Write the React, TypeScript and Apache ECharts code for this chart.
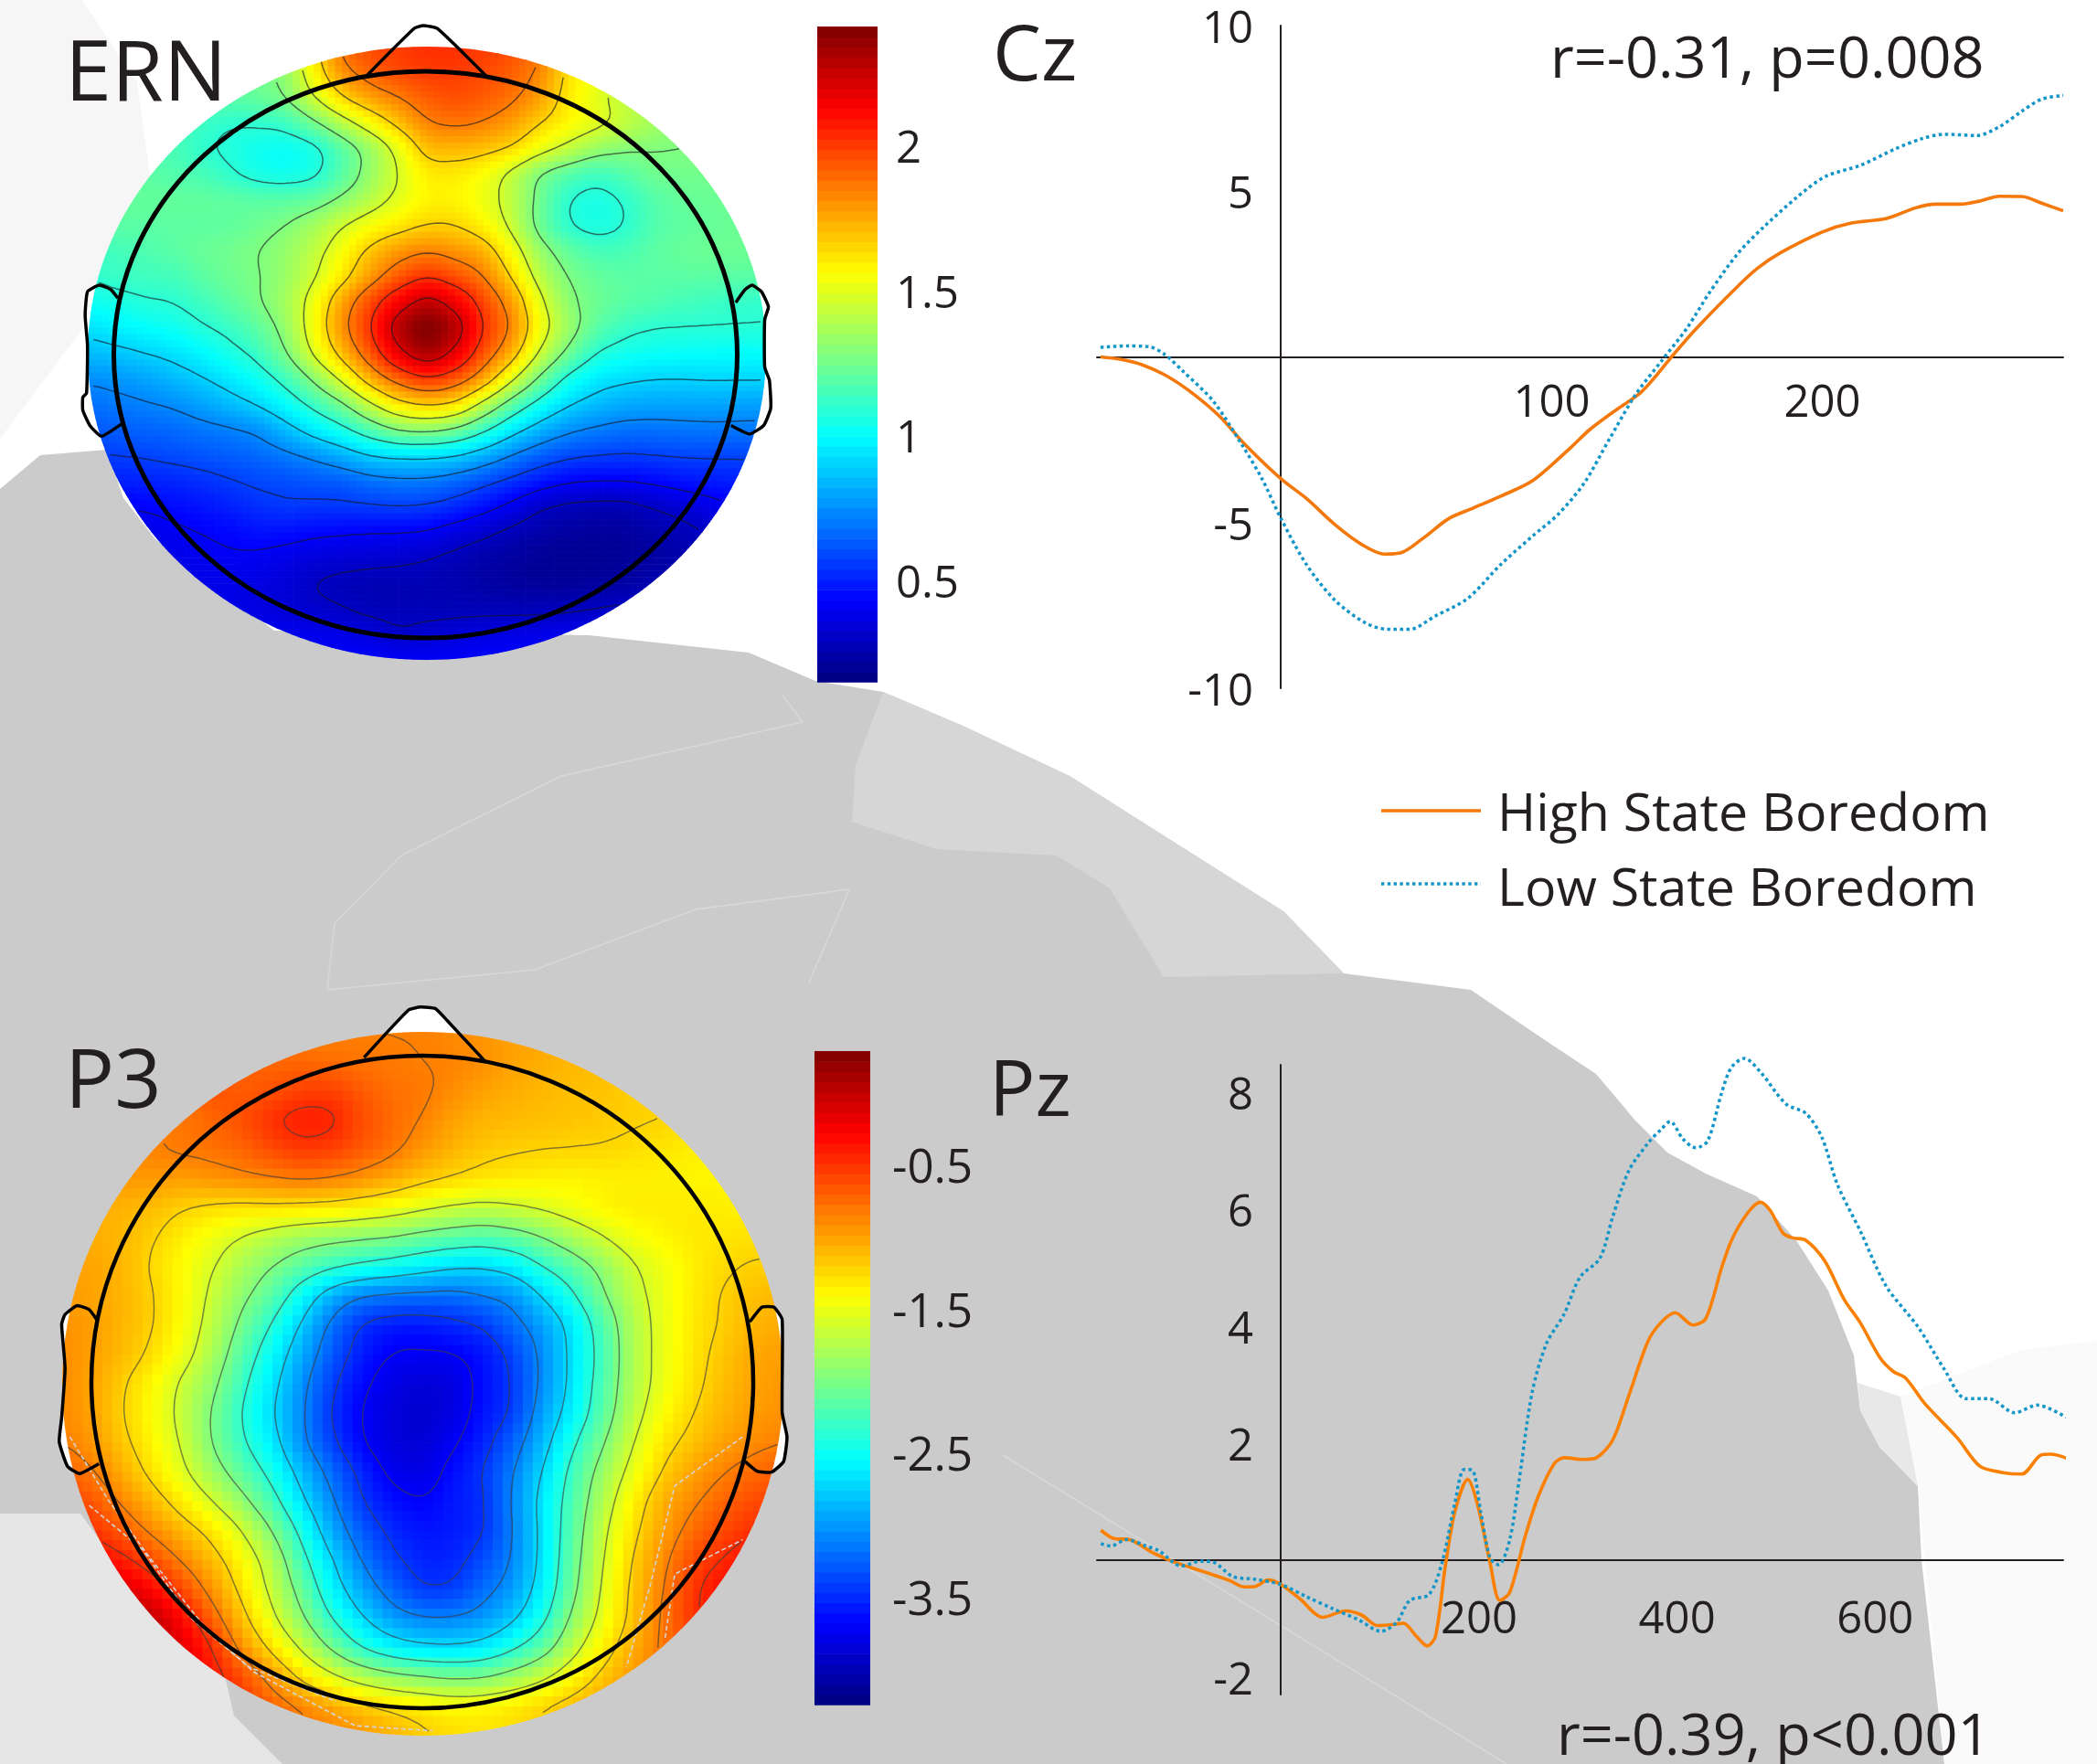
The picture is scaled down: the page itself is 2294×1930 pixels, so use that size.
import React, { useEffect, useRef } from "react";
import * as echarts from "echarts";

const ernMatrix: number[][] = [
  [1.25,1.25,1.25,1.25,1.25,1.25,1.25,1.35,1.62,1.9,1.97,2.0,2.03,2.03,2.0,1.96,1.88,1.65,1.5,1.4,1.35,1.35,1.35,1.35,1.35],
  [1.25,1.25,1.25,1.25,1.25,1.25,1.25,1.3,1.58,1.82,1.92,1.97,2.0,2.0,1.97,1.92,1.84,1.62,1.52,1.42,1.35,1.35,1.35,1.35,1.35],
  [1.22,1.22,1.22,1.22,1.22,1.2,1.22,1.28,1.47,1.66,1.78,1.85,1.93,1.96,1.93,1.88,1.78,1.6,1.5,1.42,1.35,1.3,1.3,1.3,1.3],
  [1.2,1.2,1.2,1.2,1.12,1.09,1.1,1.12,1.25,1.4,1.55,1.7,1.85,1.88,1.85,1.78,1.66,1.58,1.52,1.44,1.37,1.3,1.28,1.28,1.28],
  [1.2,1.2,1.2,1.15,1.1,1.07,1.02,1.0,1.03,1.18,1.32,1.5,1.72,1.72,1.7,1.66,1.53,1.44,1.33,1.29,1.28,1.28,1.28,1.28,1.28],
  [1.2,1.2,1.2,1.18,1.16,1.1,1.04,1.02,1.05,1.18,1.33,1.47,1.6,1.6,1.55,1.42,1.25,1.17,1.12,1.18,1.25,1.25,1.25,1.25,1.25],
  [1.22,1.22,1.22,1.22,1.22,1.22,1.2,1.2,1.22,1.3,1.4,1.5,1.58,1.58,1.52,1.42,1.24,1.08,1.04,1.09,1.18,1.22,1.23,1.24,1.24],
  [1.2,1.2,1.2,1.2,1.2,1.2,1.24,1.28,1.36,1.47,1.55,1.6,1.66,1.66,1.58,1.44,1.22,1.08,1.04,1.08,1.18,1.2,1.22,1.23,1.23],
  [1.12,1.14,1.17,1.2,1.23,1.25,1.28,1.33,1.42,1.55,1.7,1.8,1.85,1.8,1.75,1.55,1.33,1.22,1.15,1.16,1.2,1.23,1.24,1.24,1.24],
  [1.1,1.13,1.14,1.14,1.2,1.24,1.27,1.33,1.45,1.6,1.78,1.93,2.03,1.95,1.86,1.65,1.4,1.27,1.22,1.2,1.2,1.2,1.2,1.2,1.2],
  [1.02,1.05,1.08,1.09,1.13,1.2,1.27,1.36,1.53,1.78,1.98,2.15,2.3,2.17,1.98,1.8,1.5,1.3,1.24,1.2,1.18,1.15,1.13,1.11,1.1],
  [0.93,0.97,1.0,1.03,1.08,1.12,1.2,1.32,1.55,1.82,2.03,2.33,2.46,2.33,2.03,1.85,1.55,1.35,1.2,1.12,1.09,1.09,1.09,1.09,1.09],
  [0.85,0.87,0.9,0.93,0.98,1.05,1.12,1.27,1.5,1.72,1.95,2.2,2.36,2.2,1.95,1.75,1.45,1.25,1.08,1.04,1.02,1.01,1.0,1.0,1.0],
  [0.74,0.76,0.79,0.84,0.89,0.95,1.02,1.13,1.3,1.5,1.75,1.92,2.03,1.95,1.78,1.5,1.25,1.04,0.95,0.92,0.9,0.9,0.91,0.91,0.91],
  [0.68,0.7,0.72,0.74,0.79,0.85,0.91,1.0,1.13,1.25,1.45,1.62,1.68,1.65,1.42,1.2,1.03,0.91,0.85,0.81,0.8,0.8,0.8,0.79,0.78],
  [0.62,0.64,0.65,0.66,0.69,0.71,0.74,0.85,0.96,1.05,1.18,1.3,1.32,1.26,1.12,0.95,0.83,0.75,0.71,0.68,0.68,0.69,0.7,0.7,0.7],
  [0.56,0.57,0.58,0.6,0.62,0.64,0.66,0.7,0.75,0.82,0.9,0.92,0.92,0.9,0.82,0.72,0.64,0.59,0.57,0.56,0.57,0.58,0.58,0.58,0.58],
  [0.5,0.5,0.5,0.51,0.53,0.56,0.59,0.6,0.62,0.63,0.68,0.7,0.7,0.66,0.6,0.54,0.48,0.43,0.42,0.42,0.44,0.47,0.49,0.5,0.5],
  [0.42,0.42,0.43,0.45,0.47,0.5,0.53,0.56,0.55,0.55,0.56,0.57,0.56,0.52,0.46,0.39,0.3,0.27,0.26,0.26,0.3,0.33,0.38,0.42,0.43],
  [0.37,0.37,0.37,0.4,0.42,0.44,0.47,0.46,0.44,0.43,0.42,0.42,0.41,0.36,0.32,0.27,0.24,0.22,0.21,0.21,0.24,0.27,0.3,0.32,0.32],
  [0.38,0.38,0.38,0.38,0.39,0.41,0.4,0.38,0.35,0.34,0.33,0.32,0.3,0.27,0.24,0.22,0.2,0.19,0.19,0.2,0.22,0.24,0.27,0.3,0.3],
  [0.38,0.38,0.38,0.38,0.38,0.38,0.37,0.34,0.29,0.27,0.26,0.26,0.26,0.25,0.23,0.21,0.2,0.2,0.21,0.22,0.25,0.28,0.3,0.3,0.3],
  [0.38,0.38,0.38,0.38,0.38,0.38,0.36,0.34,0.32,0.3,0.27,0.27,0.27,0.27,0.27,0.27,0.27,0.28,0.3,0.32,0.34,0.34,0.34,0.34,0.34],
  [0.4,0.4,0.4,0.4,0.4,0.4,0.4,0.4,0.39,0.38,0.36,0.3,0.33,0.35,0.37,0.38,0.39,0.4,0.4,0.4,0.4,0.4,0.4,0.4,0.4],
  [0.43,0.43,0.43,0.43,0.43,0.43,0.43,0.43,0.43,0.43,0.43,0.42,0.42,0.42,0.43,0.43,0.43,0.43,0.43,0.43,0.43,0.43,0.43,0.43,0.43],
];
const ernLevels = [2.22, 2.03, 1.85, 1.66, 1.47, 1.28, 1.09, 0.9, 0.73, 0.57, 0.42, 0.3];

const p3Matrix: number[][] = [
  [-0.8,-0.8,-0.8,-0.8,-0.8,-0.8,-0.8,-0.75,-0.85,-0.85,-0.85,-0.85,-0.85,-0.9,-0.95,-1.0,-1.0,-1.05,-1.1,-1.1,-1.1,-1.1,-1.1,-1.1,-1.1],
  [-0.8,-0.8,-0.8,-0.8,-0.8,-0.75,-0.7,-0.75,-0.75,-0.78,-0.8,-0.82,-0.85,-0.85,-0.9,-1.0,-1.05,-1.1,-1.1,-1.1,-1.1,-1.1,-1.1,-1.1,-1.1],
  [-0.85,-0.85,-0.85,-0.85,-0.8,-0.6,-0.7,-0.65,-0.55,-0.55,-0.68,-0.78,-0.8,-0.9,-1.0,-1.05,-1.1,-1.12,-1.15,-1.2,-1.2,-1.2,-1.2,-1.2,-1.2],
  [-0.88,-0.88,-0.88,-0.9,-0.8,-0.75,-0.62,-0.45,-0.38,-0.4,-0.62,-0.75,-0.85,-1.0,-1.08,-1.1,-1.12,-1.15,-1.17,-1.2,-1.22,-1.25,-1.25,-1.25,-1.25],
  [-0.88,-0.88,-0.88,-0.85,-0.8,-0.78,-0.72,-0.6,-0.5,-0.55,-0.66,-0.78,-0.95,-1.08,-1.17,-1.2,-1.22,-1.22,-1.23,-1.26,-1.3,-1.35,-1.38,-1.38,-1.38],
  [-1.0,-1.0,-0.95,-0.95,-0.98,-0.92,-0.88,-0.84,-0.8,-0.84,-0.92,-1.03,-1.15,-1.22,-1.28,-1.32,-1.35,-1.38,-1.36,-1.36,-1.36,-1.38,-1.38,-1.4,-1.4],
  [-1.1,-1.05,-1.08,-1.12,-1.22,-1.28,-1.3,-1.28,-1.3,-1.32,-1.38,-1.45,-1.55,-1.63,-1.68,-1.62,-1.55,-1.45,-1.36,-1.32,-1.32,-1.32,-1.34,-1.36,-1.38],
  [-1.05,-1.05,-1.1,-1.2,-1.35,-1.48,-1.62,-1.75,-1.85,-1.9,-1.95,-1.98,-2.08,-2.15,-2.2,-2.13,-1.98,-1.78,-1.6,-1.45,-1.38,-1.32,-1.3,-1.28,-1.28],
  [-1.0,-1.0,-1.08,-1.25,-1.42,-1.58,-1.8,-1.98,-2.15,-2.3,-2.4,-2.5,-2.6,-2.7,-2.72,-2.62,-2.35,-2.15,-1.9,-1.62,-1.48,-1.35,-1.25,-1.2,-1.2],
  [-0.98,-1.0,-1.08,-1.2,-1.4,-1.65,-1.92,-2.15,-2.55,-2.95,-3.15,-3.18,-3.2,-3.22,-3.12,-3.05,-2.72,-2.4,-2.0,-1.68,-1.5,-1.33,-1.2,-1.12,-1.1],
  [-0.92,-0.98,-1.08,-1.2,-1.42,-1.7,-2.05,-2.38,-2.78,-3.2,-3.5,-3.6,-3.6,-3.52,-3.45,-3.2,-2.98,-2.65,-2.2,-1.75,-1.5,-1.32,-1.2,-1.08,-1.03],
  [-0.9,-0.98,-1.1,-1.26,-1.48,-1.78,-2.18,-2.55,-2.93,-3.3,-3.58,-3.72,-3.72,-3.72,-3.63,-3.4,-3.05,-2.65,-2.25,-1.75,-1.5,-1.3,-1.15,-1.02,-0.98],
  [-0.9,-1.0,-1.2,-1.4,-1.65,-1.9,-2.3,-2.65,-3.05,-3.42,-3.67,-3.8,-3.88,-3.85,-3.63,-3.45,-3.05,-2.65,-2.2,-1.75,-1.5,-1.28,-1.12,-1.0,-0.95],
  [-0.88,-1.0,-1.22,-1.42,-1.68,-2.0,-2.38,-2.72,-3.08,-3.5,-3.72,-3.85,-3.91,-3.82,-3.61,-3.45,-2.95,-2.6,-2.15,-1.7,-1.42,-1.22,-1.08,-0.98,-0.92],
  [-0.85,-0.95,-1.17,-1.38,-1.62,-2.0,-2.33,-2.62,-3.08,-3.42,-3.71,-3.85,-3.88,-3.74,-3.55,-3.25,-2.85,-2.4,-2.0,-1.6,-1.3,-1.15,-1.0,-0.9,-0.85],
  [-0.7,-0.82,-1.05,-1.3,-1.55,-1.85,-2.15,-2.45,-2.85,-3.22,-3.53,-3.77,-3.83,-3.62,-3.45,-3.12,-2.72,-2.25,-1.85,-1.5,-1.2,-1.0,-0.85,-0.75,-0.7],
  [-0.55,-0.65,-0.88,-1.1,-1.35,-1.6,-1.9,-2.25,-2.7,-3.08,-3.47,-3.63,-3.7,-3.58,-3.5,-3.08,-2.62,-2.2,-1.75,-1.35,-1.05,-0.88,-0.72,-0.6,-0.55],
  [-0.42,-0.5,-0.68,-0.9,-1.1,-1.3,-1.6,-1.98,-2.45,-2.95,-3.3,-3.52,-3.61,-3.58,-3.5,-3.12,-2.65,-2.15,-1.65,-1.28,-1.0,-0.75,-0.6,-0.48,-0.42],
  [-0.2,-0.28,-0.4,-0.62,-0.88,-1.12,-1.4,-1.75,-2.28,-2.72,-3.15,-3.42,-3.54,-3.54,-3.35,-3.1,-2.65,-2.1,-1.6,-1.2,-0.9,-0.6,-0.45,-0.32,-0.28],
  [-0.05,-0.05,-0.1,-0.3,-0.6,-0.95,-1.3,-1.68,-2.1,-2.6,-2.95,-3.25,-3.47,-3.45,-3.2,-3.0,-2.6,-2.05,-1.55,-1.15,-0.85,-0.5,-0.3,-0.25,-0.25],
  [0.15,0.15,0.15,0.05,-0.3,-0.72,-1.15,-1.55,-1.95,-2.38,-2.72,-3.0,-3.1,-3.1,-3.02,-2.8,-2.45,-1.9,-1.5,-1.15,-0.8,-0.5,-0.3,-0.3,-0.3],
  [0.05,0.05,0.05,0.05,-0.12,-0.45,-0.95,-1.3,-1.65,-2.05,-2.4,-2.6,-2.7,-2.72,-2.65,-2.42,-2.15,-1.7,-1.35,-1.05,-0.8,-0.55,-0.5,-0.5,-0.5],
  [-0.2,-0.2,-0.2,-0.2,-0.2,-0.35,-0.6,-0.95,-1.3,-1.55,-1.75,-1.88,-1.95,-2.02,-2.0,-1.85,-1.65,-1.4,-1.15,-0.95,-0.8,-0.8,-0.8,-0.8,-0.8],
  [-0.4,-0.4,-0.4,-0.4,-0.4,-0.4,-0.45,-0.7,-0.85,-1.0,-1.15,-1.25,-1.32,-1.38,-1.36,-1.28,-1.2,-1.1,-1.0,-0.9,-0.9,-0.9,-0.9,-0.9,-0.9],
  [-0.6,-0.6,-0.6,-0.6,-0.6,-0.6,-0.65,-0.7,-0.78,-0.85,-0.95,-1.05,-1.18,-1.25,-1.3,-1.28,-1.22,-1.1,-1.0,-0.9,-0.9,-0.9,-0.9,-0.9,-0.9],
];
const p3Levels = [-0.466, -0.844, -1.222, -1.6, -1.978, -2.356, -2.733, -3.11, -3.45, -3.7];

const ernRange = [0.149, 2.41];
const p3Range = [-4.25, 0.29];
const ernTicks = [0.5, 1, 1.5, 2];
const p3Ticks = [-3.5, -2.5, -1.5, -0.5];

const czHigh = [[-66.7,0],[-59.5,-0.07],[-51.2,-0.24],[-41.7,-0.6],[-32,-1.14],[-22.6,-1.8],[-13,-2.67],[0,-3.68],[9.5,-4.28],[20.2,-5.08],[29.8,-5.66],[38,-5.95],[44,-5.92],[52.4,-5.48],[62,-4.88],[71.4,-4.55],[81,-4.21],[92.9,-3.74],[107,-2.74],[114,-2.2],[122.6,-1.67],[133,-1.07],[139,-0.53],[145,0.07],[153.6,0.87],[168,2.07],[176,2.67],[184.5,3.14],[200,3.77],[210.7,4.04],[223.8,4.18],[234.5,4.5],[241.7,4.61],[251,4.61],[258,4.7],[265.5,4.85],[273.8,4.84],[281,4.64],[289,4.41]];
const czLow = [[-66.7,0.29],[-57,0.33],[-48.8,0.31],[-42.9,0.07],[-35.7,-0.47],[-25,-1.34],[-14.3,-2.67],[-7,-3.68],[0,-4.88],[9.5,-6.28],[20,-7.35],[31,-8.02],[39.3,-8.22],[47.6,-8.22],[57,-7.82],[69,-7.29],[81,-6.28],[92.9,-5.41],[102.4,-4.75],[112,-3.81],[121.4,-2.47],[131,-1.14],[140.5,-0.13],[150,0.87],[158.3,1.94],[169,3.14],[178.6,3.94],[190.5,4.81],[201,5.44],[214,5.78],[227,6.28],[236.9,6.59],[245,6.72],[257,6.68],[265.5,6.95],[273.8,7.42],[281,7.78],[289,7.89]];
const pzHigh = [[-182,0.51],[-169,0.37],[-153,0.35],[-130,0.13],[-107,-0.04],[-78,-0.2],[-52,-0.35],[-37,-0.46],[-26,-0.45],[-13,-0.34],[0,-0.42],[19.5,-0.67],[42,-0.98],[65,-0.87],[81.3,-0.94],[97.5,-1.12],[114,-1.1],[123.5,-1.08],[136.5,-1.3],[147.6,-1.47],[156,-1.3],[165.8,-0.12],[175.6,0.83],[188.6,1.38],[198,0.98],[211,-0.04],[221,-0.69],[231,-0.55],[247,0.43],[260,1.1],[276,1.65],[286,1.75],[305.6,1.72],[318.6,1.75],[334.9,2.05],[351,2.8],[370.6,3.74],[383.6,4.06],[398,4.23],[416,4.02],[429,4.13],[445,5.0],[455,5.47],[471,5.93],[484,6.12],[494,5.98],[507,5.59],[517,5.51],[530,5.47],[549,5.12],[569,4.45],[585,4.06],[605,3.46],[618,3.23],[631,3.11],[650,2.68],[683,2.09],[705.5,1.61],[728,1.5],[748,1.47],[767,1.79],[777,1.81],[798.4,1.71]];
const pzLow = [[-182,0.28],[-172,0.24],[-156,0.35],[-136.5,0.24],[-123.5,0.16],[-100.8,-0.1],[-81,-0.02],[-68,-0.04],[-49,-0.28],[-26,-0.33],[0,-0.42],[26,-0.63],[52,-0.83],[78,-1.02],[101,-1.22],[117,-1.06],[130,-0.69],[149.5,-0.59],[162.6,-0.04],[175.6,0.98],[185,1.55],[193,1.54],[201.6,0.83],[211,0.04],[219.8,-0.08],[231,0.35],[240.6,1.38],[253.6,2.87],[268,3.7],[286,4.21],[302,4.84],[322,5.16],[335,5.87],[351,6.65],[370.6,7.13],[383.6,7.36],[393,7.5],[406,7.2],[419,7.05],[431,7.17],[445,7.99],[455,8.43],[468,8.58],[484,8.35],[510,7.8],[530,7.64],[546,7.24],[562,6.42],[585,5.63],[611,4.69],[643.7,3.98],[669.7,3.27],[692,2.76],[715,2.76],[741,2.52],[764,2.65],[793,2.44]];

const FONT = "Open Sans";
const INK = "#231f20";
const ORANGE = "#f4780a";
const BLUE = "#1296c8";

const clamp01 = (v: number) => Math.max(0, Math.min(1, v));
function jet(t: number) {
  const r = clamp01(1.5 - Math.abs(4 * t - 3));
  const g = clamp01(1.5 - Math.abs(4 * t - 2));
  const b = clamp01(1.5 - Math.abs(4 * t - 1));
  return `rgb(${Math.round(r * 255)},${Math.round(g * 255)},${Math.round(b * 255)})`;
}
function cubic(a: number, b: number, c: number, d: number, t: number) {
  return b + 0.5 * t * (c - a + t * (2 * a - 5 * b + 4 * c - d + t * (3 * (b - c) + d - a)));
}
function soften(m: number[][]) {
  const n = m.length - 1;
  const at = (a: number, b: number) => m[Math.max(0, Math.min(n, b))][Math.max(0, Math.min(n, a))];
  const w = [1 / 8, 6 / 8, 1 / 8];
  return m.map((row, j) =>
    row.map((_v, i) => {
      let s = 0;
      for (let a = -1; a <= 1; a++) for (let b = -1; b <= 1; b++) s += w[a + 1] * w[b + 1] * at(i + a, j + b);
      return s;
    }),
  );
}
function shade(m: number[][], x: number, y: number) {
  const n = m.length - 1;
  const i = Math.min(n - 1, Math.floor(x));
  const j = Math.min(n - 1, Math.floor(y));
  const at = (a: number, b: number) => m[Math.max(0, Math.min(n, b))][Math.max(0, Math.min(n, a))];
  const row = (b: number) => cubic(at(i - 1, b), at(i, b), at(i + 1, b), at(i + 2, b), x - i);
  return cubic(row(j - 1), row(j), row(j + 1), row(j + 2), y - j);
}

function cellData(m: number[][]) {
  const out: number[][] = [];
  for (let j = 0; j < m.length - 1; j++) for (let i = 0; i < m[j].length - 1; i++) out.push([i, j, m[j][i]]);
  return out;
}

function mapSeries(raw: number[][], range: number[], sub: number, xAxisIndex: number) {
  const m = soften(raw);
  return {
    type: "custom",
    xAxisIndex,
    yAxisIndex: xAxisIndex,
    clip: false,
    silent: true,
    z: 2,
    data: cellData(raw),
    encode: { x: 0, y: 1 },
    renderItem: (_p: any, api: any) => {
      const i = api.value(0);
      const j = api.value(1);
      const inside = (x: number, y: number) => (x - 12) ** 2 + (y - 12) ** 2 <= 144;
      const corners = [inside(i, j), inside(i + 1, j), inside(i, j + 1), inside(i + 1, j + 1)];
      const nx = Math.max(0, Math.max(i - 12, 11 - i));
      const ny = Math.max(0, Math.max(j - 12, 11 - j));
      if (!corners.some(Boolean) && nx * nx + ny * ny > 144) return { type: "group", children: [] };
      const children: any[] = [];
      const step = 1 / sub;
      for (let a = 0; a < sub; a++) {
        for (let b = 0; b < sub; b++) {
          const x0 = i + a * step;
          const y0 = j + b * step;
          const p0 = api.coord([x0, y0]);
          const p1 = api.coord([x0 + step, y0 + step]);
          const v = shade(m, x0 + step / 2, y0 + step / 2);
          children.push({
            type: "rect",
            shape: { x: p0[0], y: p0[1], width: p1[0] - p0[0] + 0.7, height: p1[1] - p0[1] + 0.7 },
            style: { fill: jet(clamp01((v - range[0]) / (range[1] - range[0]))) },
          });
        }
      }
      const c = api.coord([12, 12]);
      const e = api.coord([24, 24]);
      const group: any = { type: "group", children };
      if (!corners.every(Boolean)) {
        group.clipPath = { type: "ellipse", shape: { cx: c[0], cy: c[1], rx: e[0] - c[0], ry: e[1] - c[1] } };
      }
      return group;
    },
  };
}

function contourSeries(raw: number[][], levels: number[], xAxisIndex: number, stroke: string) {
  const m = soften(raw);
  return {
    type: "custom",
    xAxisIndex,
    yAxisIndex: xAxisIndex,
    clip: false,
    silent: true,
    z: 3,
    data: levels.map((l) => [12, 12, l]),
    encode: { x: 0, y: 1 },
    renderItem: (_p: any, api: any) => {
      const level = api.value(2);
      const N = 120;
      const s = 24 / N;
      let d = "";
      const val = (a: number, b: number) => shade(m, Math.min(24, a * s), Math.min(24, b * s));
      const cross = (x0: number, y0: number, v0: number, x1: number, y1: number, v1: number) => {
        const t = (level - v0) / (v1 - v0);
        return [x0 + (x1 - x0) * t, y0 + (y1 - y0) * t];
      };
      for (let a = 0; a < N; a++) {
        for (let b = 0; b < N; b++) {
          const v = [val(a, b), val(a + 1, b), val(a + 1, b + 1), val(a, b + 1)];
          const x = a * s;
          const y = b * s;
          const pts: number[][] = [];
          if (v[0] > level !== v[1] > level) pts.push(cross(x, y, v[0], x + s, y, v[1]));
          if (v[1] > level !== v[2] > level) pts.push(cross(x + s, y, v[1], x + s, y + s, v[2]));
          if (v[2] > level !== v[3] > level) pts.push(cross(x + s, y + s, v[2], x, y + s, v[3]));
          if (v[3] > level !== v[0] > level) pts.push(cross(x, y + s, v[3], x, y, v[0]));
          for (let k = 0; k + 1 < pts.length; k += 2) {
            const [p, q] = [pts[k], pts[k + 1]];
            if ((p[0] - 12) ** 2 + (p[1] - 12) ** 2 > 144 || (q[0] - 12) ** 2 + (q[1] - 12) ** 2 > 144) continue;
            const P = api.coord(p);
            const Q = api.coord(q);
            d += `M${P[0].toFixed(1)} ${P[1].toFixed(1)}L${Q[0].toFixed(1)} ${Q[1].toFixed(1)}`;
          }
        }
      }
      return { type: "path", shape: { pathData: d || "M0 0" }, style: { stroke, lineWidth: 1.5, fill: "none" } };
    },
  };
}

function colorbarSeries(range: number[], xAxisIndex: number) {
  const n = 64;
  const dv = (range[1] - range[0]) / n;
  const data: number[][] = [];
  for (let k = 0; k < n; k++) data.push([0, range[0] + k * dv, (k + 0.5) / n]);
  return {
    type: "custom",
    xAxisIndex,
    yAxisIndex: xAxisIndex,
    silent: true,
    clip: false,
    z: 2,
    data,
    encode: { x: 0, y: 1 },
    renderItem: (_p: any, api: any) => {
      const p0 = api.coord([0, api.value(1) + dv]);
      const p1 = api.coord([1, api.value(1)]);
      return {
        type: "rect",
        shape: { x: p0[0], y: p0[1], width: p1[0] - p0[0], height: p1[1] - p0[1] + 0.7 },
        style: { fill: jet(api.value(2)) },
      };
    },
  };
}

const txt = (text: string, x: number, y: number, fontSize: number, extra: any = {}) => ({
  type: "text",
  x,
  y,
  z: 60,
  style: { text, fontFamily: FONT, fontSize, fill: INK, verticalAlign: "middle", ...extra },
});
const poly = (pts: number[][], fill: string, z = -2) => ({
  type: "polygon",
  z,
  silent: true,
  shape: { points: pts },
  style: { fill, stroke: "none" },
});
const faint = (pts: number[][]) => ({
  type: "polyline",
  z: -1,
  silent: true,
  shape: { points: pts },
  style: { stroke: "#d8d8d8", lineWidth: 1.5, fill: "none" },
});
const outline = (zoomPts: number[][], sx: number, sy: number, ox: number, oy: number) => {
  const pts = zoomPts.map(([x, y]) => [x / sx + ox, y / sy + oy]);
  return [
    { type: "polyline", z: 50, silent: true, shape: { points: pts, smooth: 0.15 }, style: { stroke: "#000", lineWidth: 3.5, fill: "none", lineJoin: "round" } },
    poly(pts, "#ffffff", 0),
  ];
};

const sx1 = 1568 / 800, sy1 = 1568 / 740, sx2 = 1568 / 830, sy2 = 1568 / 840;
const artefact = (zoomPts: number[][]) => ({
  type: "polyline",
  z: 40,
  silent: true,
  shape: { points: zoomPts.map(([x, y]) => [x / sx2 + 50, y / sy2 + 1090]) },
  style: { stroke: "#d4d4d4", lineWidth: 1.6, lineDash: [5, 3], fill: "none" },
});
const heads: any[] = [
  ...outline([[135,670],[120,650],[95,640],[70,655],[65,710],[70,780],[68,890],[60,900],[60,930],[75,965],[100,990],[145,960]], sx1, sy1, 60, 10),
  ...outline([[1460,680],[1480,650],[1495,640],[1515,655],[1530,690],[1522,720],[1522,830],[1532,860],[1535,925],[1520,965],[1490,985],[1450,965]], sx1, sy1, 60, 10),
  ...outline([[668,155],[770,45],[790,38],[820,45],[925,155]], sx1, sy1, 60, 10),
  { type: "ellipse", z: 50, silent: true, shape: { cx: 465.5, cy: 388, rx: 341, ry: 310 }, style: { stroke: "#000", lineWidth: 5, fill: "none" } },
  ...outline([[105,660],[90,640],[65,632],[40,650],[33,670],[40,760],[33,860],[28,910],[45,960],[70,975],[110,955]], sx2, sy2, 50, 1090),
  ...outline([[1455,665],[1480,635],[1505,635],[1522,660],[1522,850],[1532,900],[1525,950],[1500,972],[1470,970],[1445,950]], sx2, sy2, 50, 1090),
  ...outline([[658,125],[750,28],[775,22],[805,25],[830,50],[910,135]], sx2, sy2, 50, 1090),
  { type: "ellipse", z: 50, silent: true, shape: { cx: 462, cy: 1512, rx: 362, ry: 357 }, style: { stroke: "#000", lineWidth: 4.5, fill: "none" } },
  artefact([[50,900],[130,1030],[210,1140],[330,1290],[430,1380],[640,1490],[800,1500]]),
  artefact([[90,1040],[200,1130],[300,1270],[420,1370],[600,1440]]),
  artefact([[1440,900],[1300,1000],[1250,1200],[1200,1370]]),
  artefact([[1280,1310],[1300,1180],[1440,1110]]),
];

const background: any[] = [
  poly([[0,0],[90,0],[150,90],[165,200],[120,320],[60,400],[0,480]], "#f6f6f6", -3),
  poly([[0,535],[44,498],[117,492],[135,545],[170,590],[300,690],[644,695],[819,714],[892,745],[966,757],[1053,794],[1170,849],[1287,923],[1404,997],[1470,1065],[1609,1083],[1693,1140],[1746,1175],[1789,1226],[1824,1261],[1866,1284],[1922,1309],[1965,1357],[2000,1412],[2028,1483],[2035,1543],[2056,1583],[2098,1626],[2102,1707],[2127,1930],[0,1930]], "#cbcbcb", -2),
  poly([[966,757],[1053,794],[1170,849],[1287,923],[1404,997],[1470,1065],[1273,1069],[1214,972],[1156,936],[1024,929],[932,899],[936,837]], "#d6d6d6", -1),
  poly([[2032,1513],[2079,1528],[2098,1626],[2056,1583],[2035,1543]], "#e8e8e8", -1),
  poly([[2079,1528],[2211,1477],[2294,1467],[2294,1930],[2127,1930],[2098,1626]], "#fafafa", -2),
  poly([[0,1656],[88,1656],[140,1727],[246,1834],[256,1877],[309,1930],[0,1930]], "#e6e6e6", -1),
  faint([[358,1083],[366,1010],[439,936],[614,849],[878,790],[856,761]]),
  faint([[358,1083],[585,1061],[761,995],[929,973],[885,1075]]),
  faint([[1097,1592],[1648,1930]]),
];

const keyLine = (y: number, stroke: string, dash?: number[]) => ({
  type: "line",
  z: 60,
  silent: true,
  shape: { x1: 1511, y1: y, x2: 1620, y2: y },
  style: { stroke, lineWidth: 3.4, lineDash: dash },
});

const texts: any[] = [
  txt("ERN", 71, 74, 92),
  txt("P3", 71, 1177, 90),
  txt("Cz", 1086, 55, 84),
  txt("Pz", 1082, 1188, 84),
  txt("r=-0.31, p=0.008", 1696, 60, 63),
  txt("r=-0.39, p<0.001", 1703, 1895, 63),
  keyLine(887, ORANGE),
  keyLine(967, BLUE, [3.4, 3.4]),
  txt("High State Boredom", 1638, 887, 57.3),
  txt("Low State Boredom", 1638, 969, 57.3),
];

const hiddenAxis = (gridIndex: number, min: number, max: number, inverse = false) => ({
  type: "value", gridIndex, min, max, inverse, show: false,
});
const barY = (gridIndex: number, range: number[], ticks: number[], margin: number, fontSize: number) => ({
  type: "value", gridIndex, min: range[0], max: range[1], position: "right",
  axisLine: { show: false, onZero: false },
  splitLine: { show: false },
  axisTick: { show: true, inside: true, length: 7, customValues: ticks, lineStyle: { color: "#7a1a10", width: 2 } },
  axisLabel: {
    show: true, customValues: ticks, margin, fontFamily: FONT, fontSize, color: INK,
    formatter: (v: number) => String(v),
  },
});
const lineX = (gridIndex: number, min: number, max: number, labels: number[], margin: number, offset: number) => ({
  type: "value", gridIndex, min, max, position: "bottom", offset,
  axisLine: { show: true, onZero: false, lineStyle: { color: INK, width: 2 } },
  axisTick: { show: false },
  splitLine: { show: false },
  axisLabel: { show: true, customValues: labels, margin, fontFamily: FONT, fontSize: 49, color: INK },
});
const lineY = (gridIndex: number, min: number, max: number, labels: number[], pad: number, offset: number) => ({
  type: "value", gridIndex, min, max, position: "left", offset,
  axisLine: { show: true, onZero: false, lineStyle: { color: INK, width: 2 } },
  axisTick: { show: false },
  splitLine: { show: false },
  axisLabel: {
    show: true, customValues: labels, margin: 30, padding: [pad, 0, 0, 0],
    fontFamily: FONT, fontSize: 49, color: INK,
  },
});
const lineSeries = (name: string, data: number[][], axis: number, color: string, dotted: boolean) => ({
  type: "line", name, data, xAxisIndex: axis, yAxisIndex: axis,
  showSymbol: false, symbol: "none", smooth: 0.3, clip: false, z: 5,
  lineStyle: { color, width: dotted ? 3.5 : 3.6, type: dotted ? "dotted" : "solid" },
  itemStyle: { color },
});

export default function App() {
  const ref = useRef<HTMLDivElement>(null);
  useEffect(() => {
    document.body.style.margin = "0";
    const chart = echarts.init(ref.current!, null, { renderer: "svg" });
    chart.setOption({
      animation: false,
      backgroundColor: "#ffffff",
      textStyle: { fontFamily: FONT },
      grid: [
        { left: 96, top: 51, width: 742, height: 671 },
        { left: 894, top: 29, width: 66, height: 717 },
        { left: 1200, top: 28, width: 1057, height: 725 },
        { left: 68, top: 1129, width: 789, height: 770 },
        { left: 891, top: 1150, width: 61, height: 715 },
        { left: 1200, top: 1165, width: 1057, height: 689 },
      ],
      xAxis: [
        hiddenAxis(0, 0, 24),
        hiddenAxis(1, 0, 1),
        lineX(2, -68, 289, [100, 200], 22, -362.5),
        hiddenAxis(3, 0, 24),
        hiddenAxis(4, 0, 1),
        lineX(5, -186, 790, [200, 400, 600], 36, -147),
      ],
      yAxis: [
        hiddenAxis(0, 0, 24, true),
        barY(1, ernRange, ernTicks, 20, 49),
        lineY(2, -10, 10, [10, 5, -5, -10], 20, -201),
        hiddenAxis(3, 0, 24, true),
        barY(4, p3Range, p3Ticks, 24, 51),
        lineY(5, -2.3, 8.47, [8, 6, 4, 2, -2], 14, -201),
      ],
      graphic: { elements: [...background, ...heads, ...texts] },
      series: [
        mapSeries(ernMatrix, ernRange, 4, 0),
        contourSeries(ernMatrix, ernLevels, 0, "rgba(25,25,35,0.62)"),
        colorbarSeries(ernRange, 1),
        lineSeries("High State Boredom", czHigh, 2, ORANGE, false),
        lineSeries("Low State Boredom", czLow, 2, BLUE, true),
        mapSeries(p3Matrix, p3Range, 3, 3),
        contourSeries(p3Matrix, p3Levels, 3, "rgba(60,60,60,0.62)"),
        colorbarSeries(p3Range, 4),
        lineSeries("High State Boredom", pzHigh, 5, "#fb8000", false),
        lineSeries("Low State Boredom", pzLow, 5, BLUE, true),
      ],
    });
    return () => chart.dispose();
  }, []);
  return <div ref={ref} style={{ position: "absolute", left: 0, top: 0, width: 2294, height: 1930 }} />;
}
